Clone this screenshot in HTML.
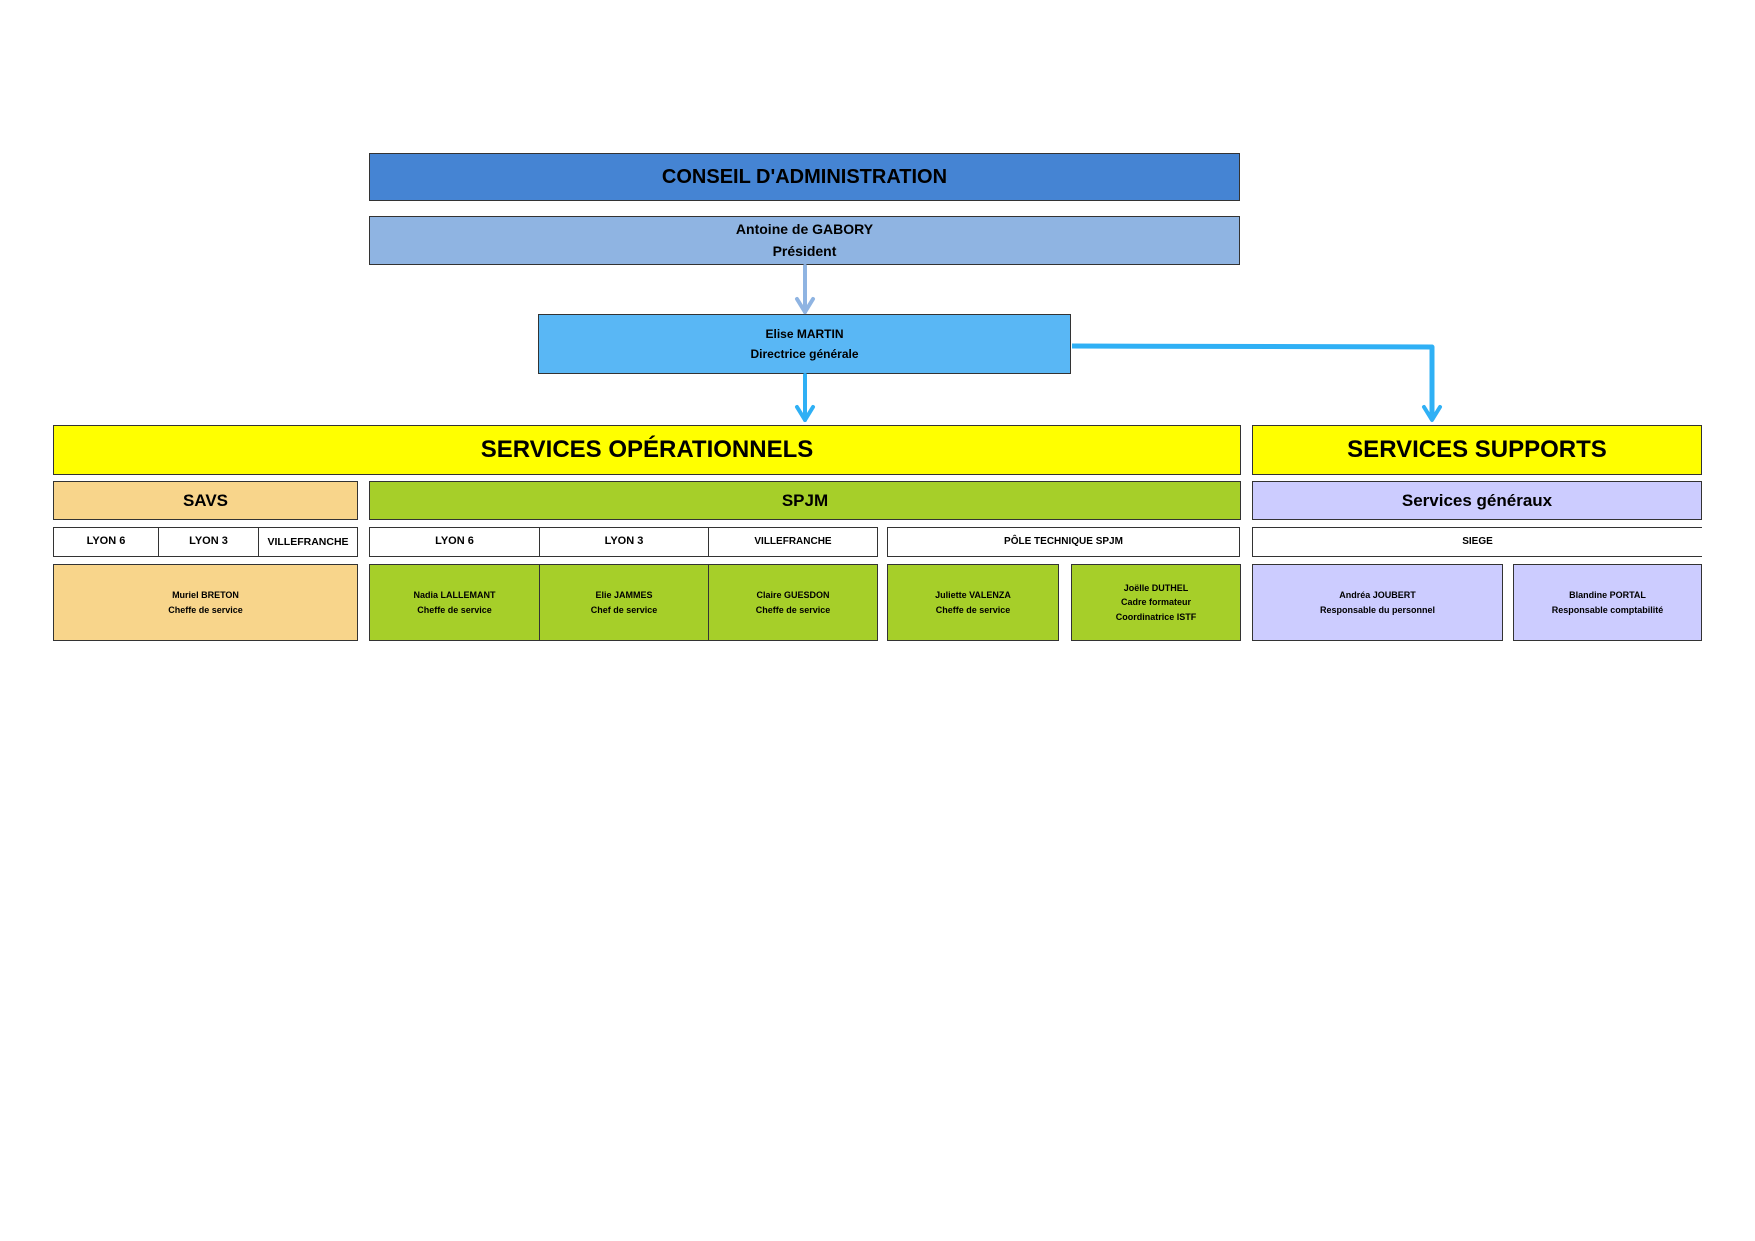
<!DOCTYPE html>
<html><head><meta charset="utf-8"><style>
body{margin:0;width:1755px;height:1241px;background:#fff;position:relative;overflow:hidden;font-family:"Liberation Sans Narrow","Liberation Sans",sans-serif;font-weight:bold;color:#000}
.b{position:absolute;box-sizing:border-box;border:1.5px solid #333;display:flex;align-items:center;justify-content:center;text-align:center;line-height:1.6}
.t{font-size:9px;line-height:1.6}
.l{font-size:11px}
</style></head><body>
<div class="b" style="left:369px;top:153px;width:871px;height:48px;background:#4584d3;font-size:20px">CONSEIL D'ADMINISTRATION</div>
<div class="b" style="left:369px;top:216px;width:871px;height:49px;background:#8fb4e2;font-size:14px;line-height:1.55">Antoine de GABORY<br>Président</div>
<div class="b" style="left:538px;top:314px;width:533px;height:60px;background:#59b7f5;font-size:12px;line-height:1.7">Elise MARTIN<br>Directrice générale</div>

<div class="b" style="left:53px;top:425px;width:1188px;height:50px;background:#ffff00;font-size:24px">SERVICES OPÉRATIONNELS</div>
<div class="b" style="left:1252px;top:425px;width:450px;height:50px;background:#ffff00;font-size:24px">SERVICES SUPPORTS</div>

<div class="b" style="left:53px;top:481px;width:305px;height:39px;background:#f8d58b;font-size:17px">SAVS</div>
<div class="b" style="left:369px;top:481px;width:872px;height:39px;background:#a6cf29;font-size:17px">SPJM</div>
<div class="b" style="left:1252px;top:481px;width:450px;height:39px;background:#ccccff;font-size:17px">Services généraux</div>

<div class="b l" style="left:53px;top:527px;width:106px;height:30px;background:#fff">LYON 6</div>
<div class="b l" style="left:158px;top:527px;width:101px;height:30px;background:#fff">LYON 3</div>
<div class="b l" style="left:258px;top:527px;width:100px;height:30px;background:#fff;font-size:10.5px">VILLEFRANCHE</div>
<div class="b l" style="left:369px;top:527px;width:171px;height:30px;background:#fff">LYON 6</div>
<div class="b l" style="left:539px;top:527px;width:170px;height:30px;background:#fff">LYON 3</div>
<div class="b l" style="left:708px;top:527px;width:170px;height:30px;background:#fff;font-size:10px">VILLEFRANCHE</div>
<div class="b l" style="left:887px;top:527px;width:353px;height:30px;background:#fff;font-size:10px">PÔLE TECHNIQUE SPJM</div>
<div class="b l" style="left:1252px;top:527px;width:450px;height:30px;background:#fff;border-right:none;font-size:10px">SIEGE</div>

<div class="b t" style="left:53px;top:564px;width:305px;height:77px;background:#f8d58b">Muriel BRETON<br>Cheffe de service</div>
<div class="b t" style="left:369px;top:564px;width:171px;height:77px;background:#a6cf29">Nadia LALLEMANT<br>Cheffe de service</div>
<div class="b t" style="left:539px;top:564px;width:170px;height:77px;background:#a6cf29">Elie JAMMES<br>Chef de service</div>
<div class="b t" style="left:708px;top:564px;width:170px;height:77px;background:#a6cf29">Claire GUESDON<br>Cheffe de service</div>
<div class="b t" style="left:887px;top:564px;width:172px;height:77px;background:#a6cf29">Juliette VALENZA<br>Cheffe de service</div>
<div class="b t" style="left:1071px;top:564px;width:170px;height:77px;background:#a6cf29">Joëlle DUTHEL<br>Cadre formateur<br>Coordinatrice ISTF</div>
<div class="b t" style="left:1252px;top:564px;width:251px;height:77px;background:#ccccff">Andréa JOUBERT<br>Responsable du personnel</div>
<div class="b t" style="left:1513px;top:564px;width:189px;height:77px;background:#ccccff">Blandine PORTAL<br>Responsable comptabilité</div>

<svg style="position:absolute;left:0;top:0" width="1755" height="1241">
<g fill="none" stroke-linecap="round" stroke-linejoin="round">
<path d="M805 266 V312" stroke="#8fb4e2" stroke-width="4"/>
<path d="M797 299 L805 312 L813 299" stroke="#8fb4e2" stroke-width="4"/>
<path d="M805 375 V420" stroke="#2fb0f5" stroke-width="4"/>
<path d="M797 407 L805 420 L813 407" stroke="#2fb0f5" stroke-width="4"/>
<path d="M1072 346 L1432 347 V420" stroke="#2fb0f5" stroke-width="5" stroke-linecap="butt"/>
<path d="M1424 407 L1432 420 L1440 407" stroke="#2fb0f5" stroke-width="4"/>
</g></svg>
</body></html>
